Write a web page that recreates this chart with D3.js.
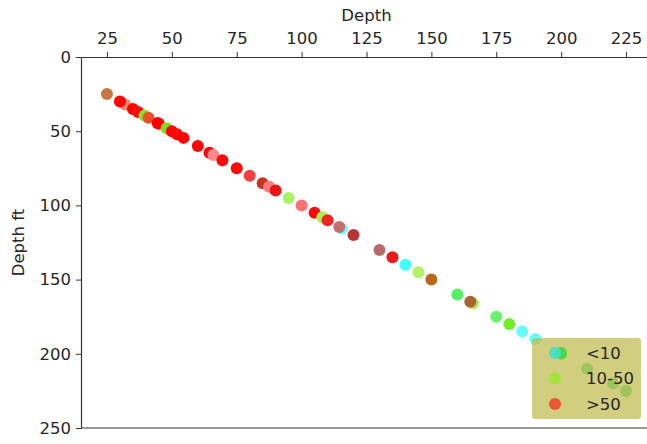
<!DOCTYPE html>
<html>
<head>
<meta charset="utf-8">
<script src="https://cdn.jsdelivr.net/npm/d3@7"></script>
<style>
  html, body { margin: 0; padding: 0; background: #fff; }
  svg { display: block; overflow: hidden; }
  text { font-family: "DejaVu Sans", sans-serif; fill: #262626; }
</style>
</head>
<body>
<svg id="chart" width="647" height="444"></svg>
<script>
// ---- data ----
const depths = [25, 32, 30, 35, 37, 39.5, 41, 44.5, 45, 48, 50, 52, 54.5, 60, 64.5, 66, 69.5, 75, 80, 85, 87.5, 90,
                95, 100, 105, 108, 110, 115.5, 114.5, 120, 130, 135, 140, 145, 150, 160, 166, 165, 175, 180, 185, 190,
                200, 210, 220, 225];
const classes = [">50", ">50", ">50", ">50", ">50", "10-50", ">50", ">50", ">50", "10-50", ">50", ">50", ">50", ">50", ">50", ">50", ">50", ">50", ">50", ">50", ">50", ">50",
                 "10-50", ">50", ">50", "10-50", ">50", "<10", ">50", ">50", ">50", ">50", "<10", "10-50", "10-50", "<10", "10-50", "10-50", "<10", "10-50", "<10", "<10",
                 "<10", "<10", "<10", "<10"];
const markerColors = ["#c47a42", "#f08a6a", "#ff0606", "#ff0202", "#f31212", "#86e02a", "#e6522a", "#ff0505", "#ff0000", "#7ee21a", "#ff0303", "#ff0808", "#ff0404", "#ff0404", "#ff0505", "#ff8888", "#ff0707", "#ff0a0a", "#f24040", "#c83322", "#ff7a7a", "#ea1414",
                      "#aaf266", "#ff7272", "#fa0a0a", "#a8f050", "#f02222", "#66ffff", "#c86e6e", "#b83434", "#b86a6a", "#e81a1a", "#44ffff", "#b2f266", "#b8681a", "#55f066", "#a6f055", "#a86434", "#6af06a", "#6cf024", "#66ffff", "#66ffff",
                      "#44dd66", "#55dd88", "#55dd88", "#55dd88"];
const xTicks = [25, 50, 75, 100, 125, 150, 175, 200, 225];
const yTicks = [0, 50, 100, 150, 200, 250];
const legendLabels = ["<10", "10-50", ">50"];
const legendColors = [["#44e0c8", "#48eee0"], ["#a4e43a"], ["#ee5535"]];

// ---- layout ----
const svg = d3.select("#chart");
const mLeft = 81, mTop = 57, mBottom = 428, mRight = 652;
const x = d3.scaleLinear().domain([15, 235]).range([mLeft, mRight]);
const y = d3.scaleLinear().domain([0, 250]).range([mTop, mBottom]);
const fs = 16.5;

// points
svg.append("g").selectAll("circle")
  .data(depths.map((d, i) => ({ d, c: classes[i], col: markerColors[i] })))
  .join("circle")
  .attr("cx", p => x(p.d))
  .attr("cy", p => y(p.d))
  .attr("r", 6)
  .attr("fill", p => p.col);

// axes
const xAxis = svg.append("g").attr("transform", `translate(0,${mTop})`)
  .call(d3.axisTop(x).tickValues(xTicks).tickSize(5).tickPadding(8).tickSizeOuter(0));
const yAxis = svg.append("g").attr("transform", `translate(${mLeft},0)`)
  .call(d3.axisLeft(y).tickValues(yTicks).tickSize(5).tickPadding(5).tickSizeOuter(0));
[xAxis, yAxis].forEach(g => {
  g.selectAll("text").attr("font-size", fs).attr("font-family", "DejaVu Sans").attr("fill", "#262626");
  g.selectAll("line").attr("stroke", "#333").attr("stroke-width", 1);
  g.select(".domain").attr("stroke", "#333").attr("stroke-width", 1.2);
});
// bottom spine
svg.append("line").attr("x1", mLeft).attr("x2", mRight).attr("y1", mBottom).attr("y2", mBottom)
  .attr("stroke", "#333").attr("stroke-width", 1.2);

// axis labels
svg.append("text").attr("x", (mLeft + mRight) / 2).attr("y", 21).attr("text-anchor", "middle")
  .attr("font-size", fs).text("Depth");
svg.append("text").attr("transform", `translate(24,${(mTop + mBottom) / 2}) rotate(-90)`)
  .attr("text-anchor", "middle").attr("font-size", fs).text("Depth ft");

// legend
const lg = svg.append("g");
lg.append("rect").attr("x", 532).attr("y", 338).attr("width", 109).attr("height", 81)
  .attr("rx", 3).attr("fill", "#bdb948").attr("fill-opacity", 0.7);
legendLabels.forEach((lab, i) => {
  const cy = 353 + i * 25.5;
  if (i === 0) {
    lg.append("circle").attr("cx", 561).attr("cy", cy).attr("r", 6).attr("fill", "#4ad84a");
  }
  lg.append("circle").attr("cx", 555).attr("cy", cy).attr("r", 6).attr("fill", legendColors[i][0])
    .attr("fill-opacity", i === 0 ? 0.9 : 1);
  lg.append("text").attr("x", 586).attr("y", cy).attr("dy", "0.36em").attr("font-size", fs).text(lab);
});
</script>
</body>
</html>
